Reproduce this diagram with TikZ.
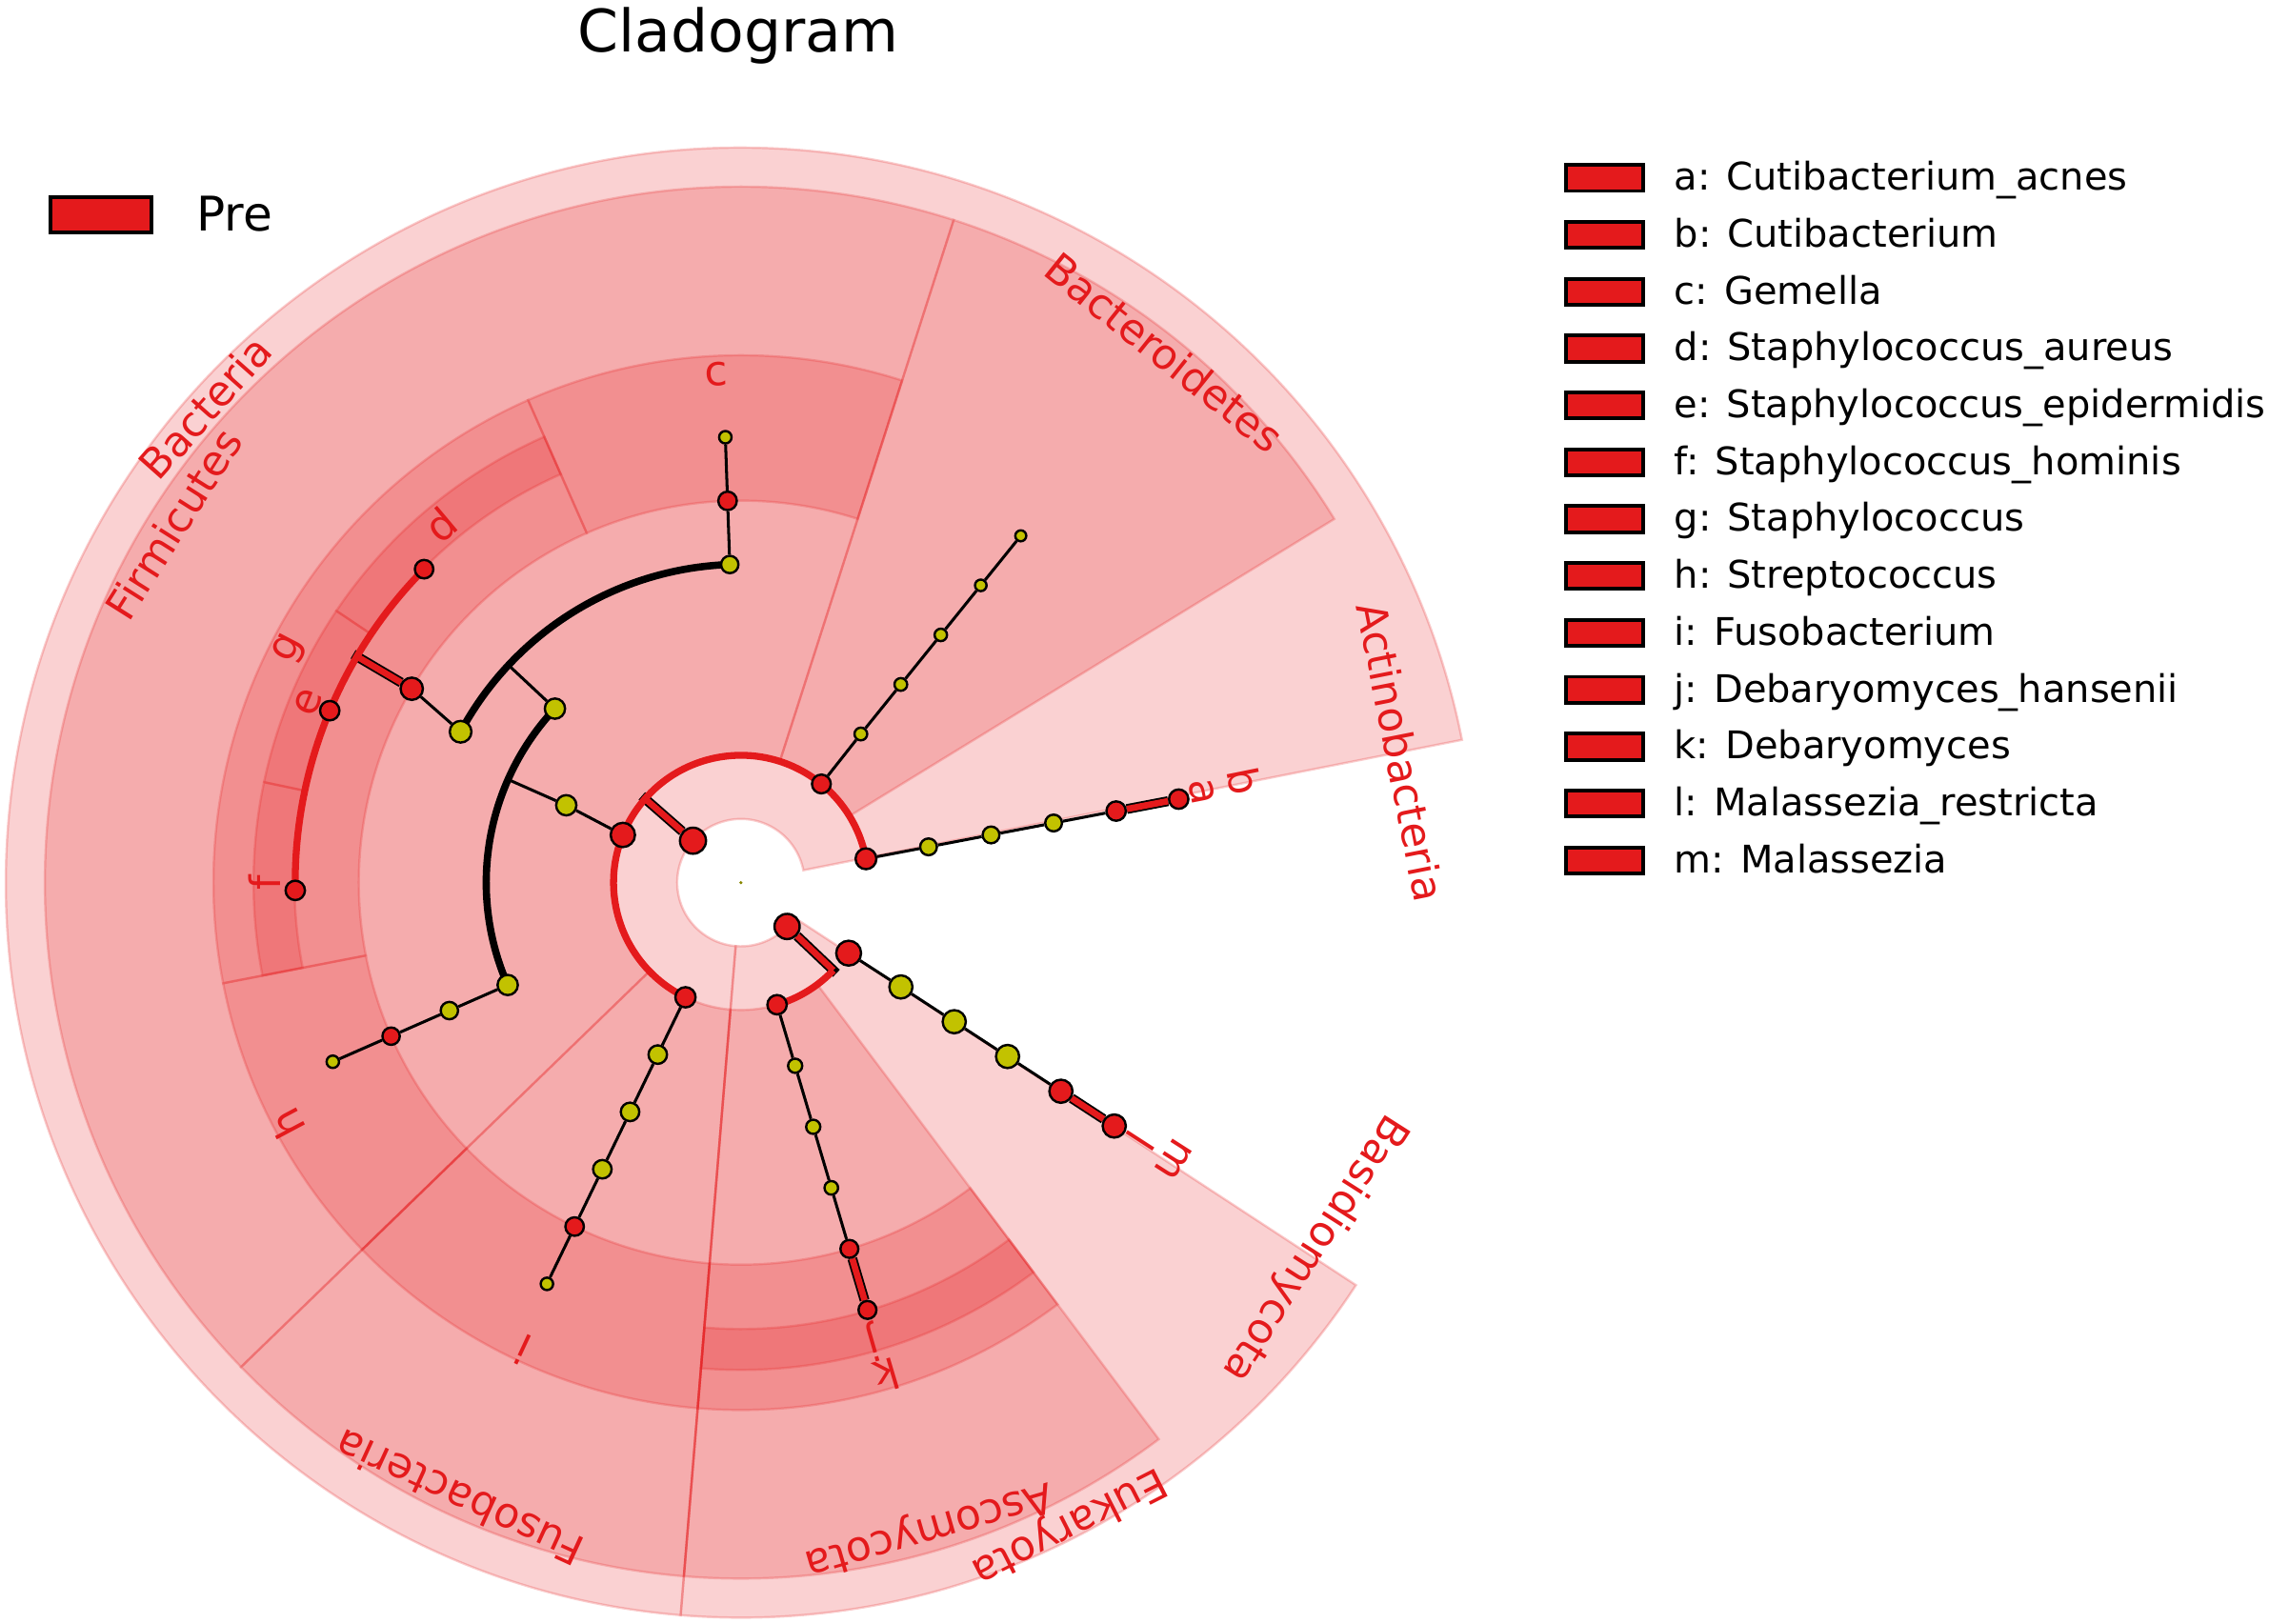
\documentclass[tikz,border=0pt]{standalone}
\usepackage{fontspec}
\setmainfont{DejaVu Sans}
\pgfdeclarelayer{bg}
\pgfsetlayers{bg,main}
\definecolor{lred}{HTML}{E41A1C}
\definecolor{lyel}{HTML}{C2C200}
\tikzset{
  cladewedge/.style={fill=lred,fill opacity=0.2,draw=lred,draw opacity=0.22,line width=0.8pt},
  thinl/.style={draw=black,line width=1pt},
  blackarc/.style={draw=black,line width=2.5pt},
  redarc/.style={draw=lred,line width=2.4pt},
  segout/.style={draw=black,line width=3.4pt},
  segin/.style={draw=lred,line width=2.2pt},
  rnode/.style={circle,draw=black,line width=0.8pt,fill=lred,inner sep=0pt,minimum size=#1},
  ynode/.style={circle,draw=black,line width=0.8pt,fill=lyel,inner sep=0pt,minimum size=#1},
  clab/.style={text=lred,inner sep=0pt,font=\fontsize{14.5}{16}\selectfont},
  legbox/.style={draw=black,line width=1.3pt,fill=lred,inner sep=0pt,minimum width=26.5pt,minimum height=9pt},
  legtext/.style={anchor=base west,inner sep=0pt,font=\fontsize{13.15}{15}\selectfont}
}
\newcommand\cwedge[4]{\path[cladewedge] (#1:#3) arc[start angle=#1,end angle=#2,radius=#3] -- (#2:#4) arc[start angle=#2,end angle=#1,radius=#4] -- cycle;}
\newcommand\clabel[4]{\node[clab,rotate=#2-90] (#1) at (#2:#3) {#4};}
\begin{document}
\begin{tikzpicture}[x=0.5pt,y=0.5pt]
\useasboundingbox (-512,-512.3) rectangle (1056,610);
% title and class legend
\node[anchor=base,inner sep=0pt,font=\fontsize{20.25}{24}\selectfont] (title) at (-1.75,574.3) {Cladogram};
\node[draw=black,line width=1.3pt,fill=lred,inner sep=0pt,minimum width=35pt,minimum height=12pt] (prebox) at (-442.15,461.6) {};
\node[anchor=base west,inner sep=0pt,font=\fontsize{16.5}{19}\selectfont] (pre) at (-376.5,450.5) {Pre};
% tree nodes
\node[circle,fill=lyel!70!black,inner sep=0pt,minimum size=1.2pt] (root) at (0,0) {};
\node[rnode=9pt] (bac) at (138.8:44) {};
\node[rnode=8.7pt] (euk) at (-43.5:44) {};
\node[rnode=7.2pt] (act) at (10.8:88) {};
\node[rnode=6.5pt] (bct) at (50.8:88) {};
\node[rnode=8.4pt] (fir) at (158.0:88) {};
\node[rnode=7pt] (fus) at (244.2:88) {};
\node[rnode=6.7pt] (asc) at (-73.5:88) {};
\node[rnode=8.6pt] (bas) at (-33.2:89) {};
% Actinobacteria
\node[ynode=5.8pt] (act2) at (10.8:132) {};
\node[ynode=5.8pt] (act3) at (10.8:176) {};
\node[ynode=5.8pt] (act4) at (10.8:220) {};
\node[rnode=6.7pt] (nb) at (10.8:264) {};
\node[rnode=6.7pt] (na) at (10.8:308) {};
% Bacteroidetes
\node[ynode=4.4pt] (bct2) at (51.1:132) {};
\node[ynode=4.4pt] (bct3) at (51.1:176) {};
\node[ynode=4.3pt] (bct4) at (51.1:220) {};
\node[ynode=4pt] (bct5) at (51.1:264) {};
\node[ynode=3.8pt] (bct6) at (51.1:308) {};
% Firmicutes
\node[ynode=7pt] (bacilli) at (156.1:132) {};
\node[ynode=7pt] (bacillales) at (136.9:176) {};
\node[ynode=7pt] (lacto) at (203.7:176) {};
\node[ynode=7.5pt] (staphf) at (151.7:220) {};
\node[ynode=6pt] (gemf) at (92:220) {};
\node[ynode=6pt] (strepf) at (203.7:220) {};
\node[rnode=7.7pt] (ng) at (149.5:264) {};
\node[rnode=6.4pt] (nc) at (92:264) {};
\node[rnode=6pt] (nh) at (203.7:264) {};
\node[rnode=6.4pt] (nd) at (135.3:308) {};
\node[rnode=6.7pt] (ne) at (157.3:308) {};
\node[rnode=6.7pt] (nf) at (181:308) {};
\node[ynode=4.3pt] (cs) at (92:308) {};
\node[ynode=4.3pt] (hs) at (203.7:308) {};
% Fusobacteria
\node[ynode=6.4pt] (fus2) at (244.2:132) {};
\node[ynode=6.4pt] (fus3) at (244.2:176) {};
\node[ynode=6.4pt] (fus4) at (244.2:220) {};
\node[rnode=6.4pt] (ni) at (244.2:264) {};
\node[ynode=4.3pt] (fus6) at (244.2:308) {};
% Ascomycota
\node[ynode=4.9pt] (asc2) at (-73.5:132) {};
\node[ynode=4.9pt] (asc3) at (-73.5:176) {};
\node[ynode=4.7pt] (asc4) at (-73.5:220) {};
\node[rnode=6.2pt] (nk) at (-73.5:264) {};
\node[rnode=6.2pt] (nj) at (-73.5:308) {};
% Basidiomycota
\node[ynode=8pt] (bas2) at (-33.1:132) {};
\node[ynode=8pt] (bas3) at (-33.1:176) {};
\node[ynode=8pt] (bas4) at (-33.1:220) {};
\node[rnode=8pt] (nm) at (-33.1:264) {};
\node[rnode=8pt] (nl) at (-33.1:308) {};
% junctions
\coordinate (jb) at (138.8:88); \coordinate (jbo) at (138.8:91);
\coordinate (je) at (-43.5:88); \coordinate (jeo) at (-43.5:91);
\coordinate (j1) at (156.1:176);
\coordinate (j2) at (136.9:220);
\coordinate (jg) at (149.5:308); \coordinate (jgo) at (149.5:311);
\begin{pgfonlayer}{bg}
\cwedge{11.2}{265.3}{44}{508}
\cwedge{265.3}{326.8}{44}{508}
\cwedge{31.5}{72.2}{88}{481}
\cwedge{72.2}{224.1}{88}{481}
\cwedge{224.1}{265.3}{88}{481}
\cwedge{265.3}{306.9}{88}{481}
\cwedge{72.2}{113.8}{264}{364.5}
\cwedge{113.8}{191}{264}{364.5}
\cwedge{191}{224.1}{264}{364.5}
\cwedge{224.1}{265.3}{264}{364.5}
\cwedge{265.3}{306.9}{264}{364.5}
\cwedge{113.8}{146.1}{308.5}{336.8}
\cwedge{146.1}{168.1}{308.5}{336.8}
\cwedge{168.1}{191}{308.5}{336.8}
\cwedge{265.3}{306.9}{308.5}{336.8}
% thin branches
\draw[thinl] (act) -- (act2) -- (act3) -- (act4) -- (nb);
\draw[thinl] (bct) -- (bct2) -- (bct3) -- (bct4) -- (bct5) -- (bct6);
\draw[thinl] (fir) -- (bacilli) -- (j1);
\draw[thinl] (bacillales) -- (j2);
\draw[thinl] (lacto) -- (strepf) -- (nh) -- (hs);
\draw[thinl] (staphf) -- (ng);
\draw[thinl] (gemf) -- (nc) -- (cs);
\draw[thinl] (fus) -- (fus2) -- (fus3) -- (fus4) -- (ni) -- (fus6);
\draw[thinl] (asc) -- (asc2) -- (asc3) -- (asc4) -- (nk);
\draw[thinl] (bas) -- (bas2) -- (bas3) -- (bas4) -- (nm);
% outlines of red branches
\draw[segout] (bac) -- (jbo);
\draw[segout] (euk) -- (jeo);
\draw[segout] (ng) -- (jgo);
\draw[segout] (nb) -- (na);
\draw[segout] (nk) -- (nj);
\draw[segout] (nm) -- (nl);
% arcs
\draw[redarc] (act.center) arc[start angle=10.8,end angle=244.2,radius=88];
\draw[redarc] (asc.center) arc[start angle=-73.5,end angle=-43.5,radius=88];
\draw[blackarc] (bacillales.center) arc[start angle=136.9,end angle=203.7,radius=176];
\draw[blackarc] (gemf.center) arc[start angle=92,end angle=151.7,radius=220];
\draw[redarc] (nd.center) arc[start angle=135.3,end angle=181,radius=308];
% red branches
\draw[segin] (bac) -- (jb);
\draw[segin] (euk) -- (je);
\draw[segin] (ng) -- (jg);
\draw[segin] (nb) -- (na);
\draw[segin] (nk) -- (nj);
\draw[segin] (nm) -- (nl);
\end{pgfonlayer}
% clade labels
\clabel{lBac}{138.4}{495}{Bacteria}
\clabel{lEuk}{-63}{499}{Eukaryota}
\clabel{lAct}{11.2}{465}{Actinobacteria}
\clabel{lBct}{51.4}{469}{Bacteroidetes}
\clabel{lFir}{147.7}{464}{Firmicutes}
\clabel{lFus}{245.4}{468}{Fusobacteria}
\clabel{lAsc}{-73.8}{465}{Ascomycota}
\clabel{lBas}{-32.5}{470}{Basidiomycota}
\clabel{ta}{11.1}{325}{a}
\clabel{tb}{11.4}{355}{b}
\clabel{tc}{92.8}{352}{c}
\clabel{td}{130}{323}{d}
\clabel{te}{157.4}{324}{e}
\clabel{tf}{180}{329}{f}
\clabel{tg}{152.6}{351}{g}
\clabel{th}{208}{355}{h}
\clabel{ti}{245}{356}{i}
\clabel{tj}{-74}{330}{j}
\clabel{tk}{-73.5}{355}{k}
\clabel{tl}{-32.9}{329}{l}
\clabel{tm}{-32.6}{355}{m}
% feature legend
\foreach \t [count=\i from 0] in {a: Cutibacterium\_acnes,b: Cutibacterium,c: Gemella,d: Staphylococcus\_aureus,e: Staphylococcus\_epidermidis,f: Staphylococcus\_hominis,g: Staphylococcus,h: Streptococcus,i: Fusobacterium,j: Debaryomyces\_hansenii,k: Debaryomyces,l: Malassezia\_restricta,m: Malassezia}{
  \node[legbox] (box\i) at (596.8,487-39.3*\i) {};
  \node[legtext] (txt\i) at (644.7,478.5-39.3*\i) {\t};
}
\end{tikzpicture}
\end{document}
